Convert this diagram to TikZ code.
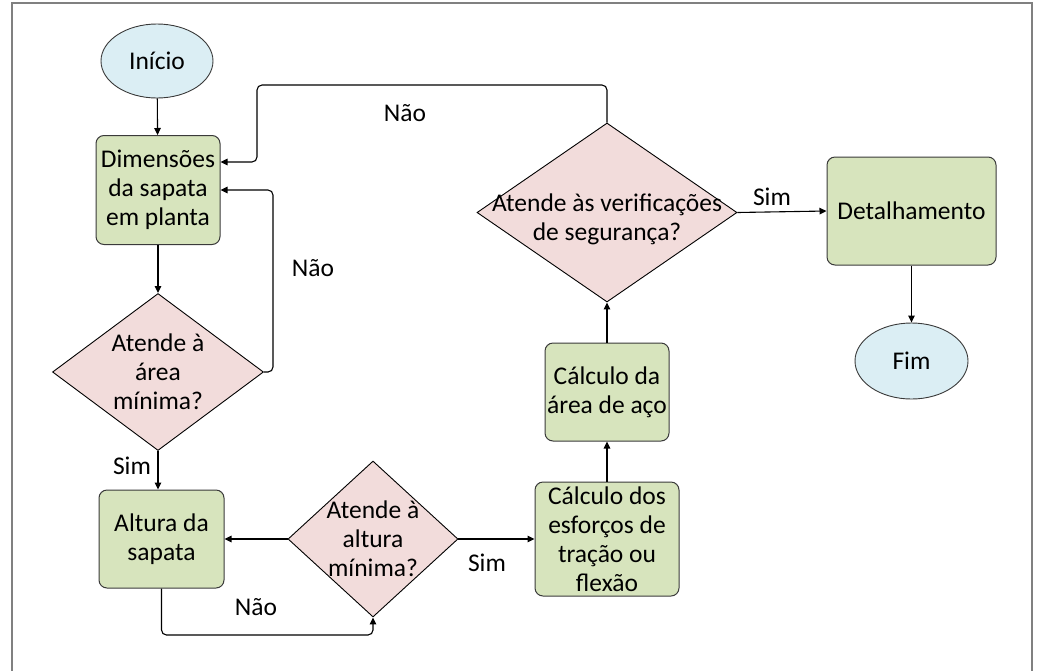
\documentclass[tikz,border=0pt]{standalone}
\usepackage{fontspec}
\setmainfont{Carlito}
\usetikzlibrary{shapes.geometric,arrows.meta}
\definecolor{boxgreen}{HTML}{D7E4BD}
\definecolor{diapink}{HTML}{F2DCDB}
\definecolor{termblue}{HTML}{DBEEF4}
\definecolor{framegray}{HTML}{808080}
\definecolor{edgegray}{HTML}{3A3A3A}
\begin{document}
\begin{tikzpicture}[x=1pt,y=-1pt,
  every node/.style={font=\fontsize{25.5}{29}\selectfont},
  procbox/.style={draw=edgegray, line width=1pt, fill=boxgreen, rounded corners=8pt, align=center, inner sep=1pt},
  decision/.style={draw=black, line width=0.9pt, fill=diapink, diamond, inner sep=0pt},
  terminal/.style={draw=edgegray, line width=0.9pt, fill=termblue, ellipse, inner sep=0pt},
  flowarrow/.style={draw=black, line width=1.1pt, -{Triangle[length=7pt,width=6.5pt]}, rounded corners=5pt},
  lbl/.style={inner sep=0pt}
]
\useasboundingbox (0,0) rectangle (1038,670);
\draw[framegray, line width=2pt] (12,671) -- (12,3) -- (1032,3) -- (1032,671);

% nodes
\node[terminal, minimum width=112pt, minimum height=74pt] (start) at (157,61) {Início};
\node[procbox, minimum width=124pt, minimum height=109pt] (dim) at (158,190) {Dimensões\\da sapata\\em planta};
\node[decision, minimum width=211pt, minimum height=157pt,
      label={[align=center,lbl]center:Atende à\\área\\mínima?}] (d1) at (158,372) {};
\node[procbox, minimum width=125pt, minimum height=98pt] (alt) at (161.5,539) {Altura da\\sapata};
\node[decision, minimum width=170pt, minimum height=156pt,
      label={[align=center,lbl]center:Atende à\\altura\\mínima?}] (d2) at (373,539) {};
\node[procbox, minimum width=144pt, minimum height=114pt] (esf) at (607,539) {Cálculo dos\\esforços de\\tração ou\\flexão};
\node[procbox, minimum width=124pt, minimum height=98pt] (aco) at (607,392) {Cálculo da\\área de aço};
\node[decision, minimum width=260pt, minimum height=179pt,
      label={[align=center,lbl,yshift=-7pt]center:Atende às verificações\\de segurança?}] (d3) at (607,212.5) {};
\node[procbox, minimum width=169pt, minimum height=108pt] (det) at (911.5,211) {Detalhamento};
\node[terminal, minimum width=113pt, minimum height=76pt] (fim) at (911.5,361) {Fim};

% bend coordinates
\coordinate (c1) at (273,190);
\coordinate (c2) at (373,635);
\coordinate (c3) at (257,85);
\coordinate (c4) at (257,162);

% connectors
\draw[flowarrow] (start) -- (dim);
\draw[flowarrow] (dim) -- (d1);
\draw[flowarrow] (d1.east) -| (c1) -- (dim.east |- c1);
\draw[flowarrow] (d1.south) -- (alt.north -| d1.south);
\draw[flowarrow] (d2.west) -- (alt.east);
\draw[flowarrow] (alt.south) |- (c2) -- (d2.south);
\draw[flowarrow] (d2.east) -- (esf.west);
\draw[flowarrow] (esf.north) -- (aco.south);
\draw[flowarrow] (aco.north) -- (d3.south);
\draw[flowarrow] (d3.north) |- (c3) -- (c4) -- (dim.east |- c4);
\draw[flowarrow] (d3.east) -- (det.west);
\draw[flowarrow] (det) -- (fim);

% labels
\node[lbl] (l1) at (313,268) {Não};
\node[lbl] (l2) at (132,466) {Sim};
\node[lbl] (l3) at (256,607) {Não};
\node[lbl] (l4) at (487,563) {Sim};
\node[lbl] (l5) at (405,113) {Não};
\node[lbl] (l6) at (772,197) {Sim};
\end{tikzpicture}
\end{document}
